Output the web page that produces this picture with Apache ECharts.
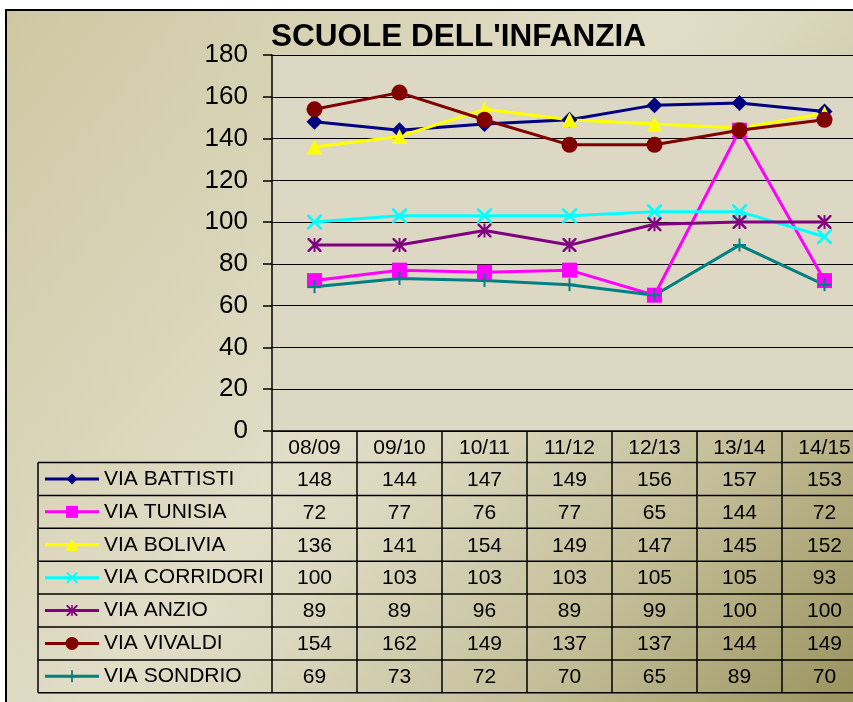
<!DOCTYPE html>
<html>
<head>
<meta charset="utf-8">
<title>SCUOLE DELL'INFANZIA</title>
<script src="https://cdn.jsdelivr.net/npm/echarts@6/dist/echarts.min.js"></script>
<style>
  html, body { margin: 0; padding: 0; background: #ffffff; }
  #chart { width: 853px; height: 702px; }
</style>
</head>
<body>
<div id="chart"></div>
<script>
// School years on the category axis
const categories = ['08/09', '09/10', '10/11', '11/12', '12/13', '13/14', '14/15'];

// Enrolment per school
const viaBattisti  = [148, 144, 147, 149, 156, 157, 153];
const viaTunisia   = [72, 77, 76, 77, 65, 144, 72];
const viaBolivia   = [136, 141, 154, 149, 147, 145, 152];
const viaCorridori = [100, 103, 103, 103, 105, 105, 93];
const viaAnzio     = [89, 89, 96, 89, 99, 100, 100];
const viaVivaldi   = [154, 162, 149, 137, 137, 144, 149];
const viaSondrio   = [69, 73, 72, 70, 65, 89, 70];

// Value axis ticks
const yMin = 0;
const yMax = 180;
const yStep = 20;

// Marker outlines as polygons inside a 20x20 box (null = round marker)
const X_SHAPE = [[0,0],[2.5,0],[10,7.5],[17.5,0],[20,0],[20,2.5],[12.5,10],[20,17.5],[20,20],[17.5,20],[10,12.5],[2.5,20],[0,20],[0,17.5],[7.5,10],[0,2.5]];
const MARKS = {
  diamond: [[[10,0],[20,10],[10,20],[0,10]]],
  square: [[[0,0],[20,0],[20,20],[0,20]]],
  triangle: [[[10,0],[20,20],[0,20]]],
  cross: [X_SHAPE],
  star: [X_SHAPE, [[8.6,0],[11.4,0],[11.4,20],[8.6,20]]],
  plus: [[[8.5,0],[11.5,0],[11.5,8.5],[20,8.5],[20,11.5],[11.5,11.5],[11.5,20],[8.5,20],[8.5,11.5],[0,11.5],[0,8.5],[8.5,8.5]]],
  circle: null
};

function symbolOf(polys) {
  if (!polys) return 'circle';
  return 'path://' + polys.map(p => 'M' + p.map(pt => pt[0] + ',' + pt[1]).join(' L') + ' Z').join(' ');
}

const schools = [
  { name: 'VIA BATTISTI',  data: viaBattisti,  color: '#000080', mark: MARKS.diamond,  size: 16, key: 11 },
  { name: 'VIA TUNISIA',   data: viaTunisia,   color: '#ff00ff', mark: MARKS.square,   size: 15, key: 12 },
  { name: 'VIA BOLIVIA',   data: viaBolivia,   color: '#ffff00', mark: MARKS.triangle, size: 15, key: 12 },
  { name: 'VIA CORRIDORI', data: viaCorridori, color: '#00ffff', mark: MARKS.cross,    size: 15, key: 11 },
  { name: 'VIA ANZIO',     data: viaAnzio,     color: '#800080', mark: MARKS.star,     size: 14, key: 11 },
  { name: 'VIA VIVALDI',   data: viaVivaldi,   color: '#800000', mark: MARKS.circle,   size: 16, key: 13 },
  { name: 'VIA SONDRIO',   data: viaSondrio,   color: '#008080', mark: MARKS.plus,     size: 13, key: 12 }
];

const FONT = "'Liberation Sans', Arial, sans-serif";
const PLOT_LEFT = 272;
const PLOT_TOP = 55;
const PLOT_BOTTOM = 431;
const TABLE_TOP = 462.5;
const ROW_H = 32.9;
const TABLE_LEFT = 38;
const TABLE_BOTTOM = TABLE_TOP + ROW_H * schools.length;

const chart = echarts.init(document.getElementById('chart'), null, { renderer: 'canvas' });

chart.setOption({
  animation: false,
  backgroundColor: new echarts.graphic.LinearGradient(0, 0, 1, 1, [
    { offset: 0, color: '#cdc7a1' },
    { offset: 0.47, color: '#e1ddc7' },
    { offset: 0.56, color: '#dcd8bf' },
    { offset: 0.78, color: '#c3bd97' },
    { offset: 1, color: '#9a935f' }
  ]),
  title: {
    text: "SCUOLE DELL'INFANZIA",
    left: 266,
    top: 16,
    textStyle: { fontFamily: FONT, fontSize: 31.5, fontWeight: 'bold', color: '#000' }
  },
  grid: {
    left: PLOT_LEFT,
    top: PLOT_TOP,
    bottom: 702 - PLOT_BOTTOM,
    width: 595,
    outerBoundsMode: 'none',
    containLabel: false,
    show: true,
    backgroundColor: '#dcd8c4',
    borderWidth: 0
  },
  xAxis: {
    type: 'category',
    data: categories,
    boundaryGap: true,
    axisLine: { show: true, lineStyle: { color: '#000', width: 1.5 } },
    axisTick: { show: true, length: TABLE_BOTTOM - PLOT_BOTTOM, lineStyle: { color: '#000', width: 1.5 } },
    axisLabel: { margin: 7, fontFamily: FONT, fontSize: 21, color: '#000' },
    splitLine: { show: false }
  },
  yAxis: {
    type: 'value',
    min: yMin,
    max: yMax,
    interval: yStep,
    axisLine: { show: true, lineStyle: { color: '#000', width: 1.5 } },
    axisTick: { show: true, length: 9, lineStyle: { color: '#000', width: 1.5 } },
    axisLabel: { margin: 24, fontFamily: FONT, fontSize: 26, color: '#000' },
    splitLine: { show: true, lineStyle: { color: '#000', width: 1.2 } }
  },
  series: schools.map(s => ({
    name: s.name,
    type: 'line',
    data: s.data,
    symbol: symbolOf(s.mark),
    symbolSize: s.size,
    showAllSymbol: true,
    lineStyle: { color: s.color, width: 3 },
    itemStyle: { color: s.color, borderWidth: 0 },
    emphasis: { disabled: true }
  }))
});

// Data table under the plot: legend keys, names and one value cell per year
function buildTable() {
  const els = [];
  // white margin and frame lines
  els.push({ type: 'rect', z: 100, shape: { x: 0, y: 0, width: 853, height: 9 }, style: { fill: '#fff' } });
  els.push({ type: 'rect', z: 100, shape: { x: 0, y: 0, width: 5, height: 702 }, style: { fill: '#fff' } });
  els.push({ type: 'line', z: 100, shape: { x1: 5, y1: 10, x2: 853, y2: 10 }, style: { stroke: '#000', lineWidth: 2 } });
  els.push({ type: 'line', z: 100, shape: { x1: 6, y1: 9, x2: 6, y2: 702 }, style: { stroke: '#000', lineWidth: 2 } });

  for (let r = 0; r <= schools.length; r++) {
    const y = TABLE_TOP + r * ROW_H;
    els.push({ type: 'line', z: 50, shape: { x1: TABLE_LEFT, y1: y, x2: 853, y2: y }, style: { stroke: '#000', lineWidth: 1.5 } });
  }
  els.push({ type: 'line', z: 50, shape: { x1: TABLE_LEFT, y1: TABLE_TOP, x2: TABLE_LEFT, y2: TABLE_BOTTOM }, style: { stroke: '#000', lineWidth: 1.5 } });

  const colX = categories.map((c, i) => chart.convertToPixel({ xAxisIndex: 0 }, i));

  schools.forEach((s, r) => {
    const cy = TABLE_TOP + r * ROW_H + ROW_H / 2;
    els.push({ type: 'line', z: 50, shape: { x1: 45, y1: cy, x2: 99, y2: cy }, style: { stroke: s.color, lineWidth: 3 } });
    const k = s.key;
    if (s.mark) {
      s.mark.forEach(poly => {
        els.push({
          type: 'polygon', z: 51,
          shape: { points: poly.map(pt => [72 - k / 2 + pt[0] * k / 20, cy - k / 2 + pt[1] * k / 20]) },
          style: { fill: s.color }
        });
      });
    } else {
      els.push({ type: 'circle', z: 51, shape: { cx: 72, cy: cy, r: k / 2 }, style: { fill: s.color } });
    }
    els.push({
      type: 'text', z: 51, x: 104, y: cy,
      style: { text: s.name, font: '21px ' + FONT, fill: '#000', textAlign: 'left', textVerticalAlign: 'middle' }
    });
    s.data.forEach((v, i) => {
      els.push({
        type: 'text', z: 51, x: colX[i], y: cy + 1,
        style: { text: String(v), font: '21px ' + FONT, fill: '#000', textAlign: 'center', textVerticalAlign: 'middle' }
      });
    });
  });
  return els;
}

chart.setOption({ graphic: { elements: buildTable() } });
</script>
</body>
</html>
